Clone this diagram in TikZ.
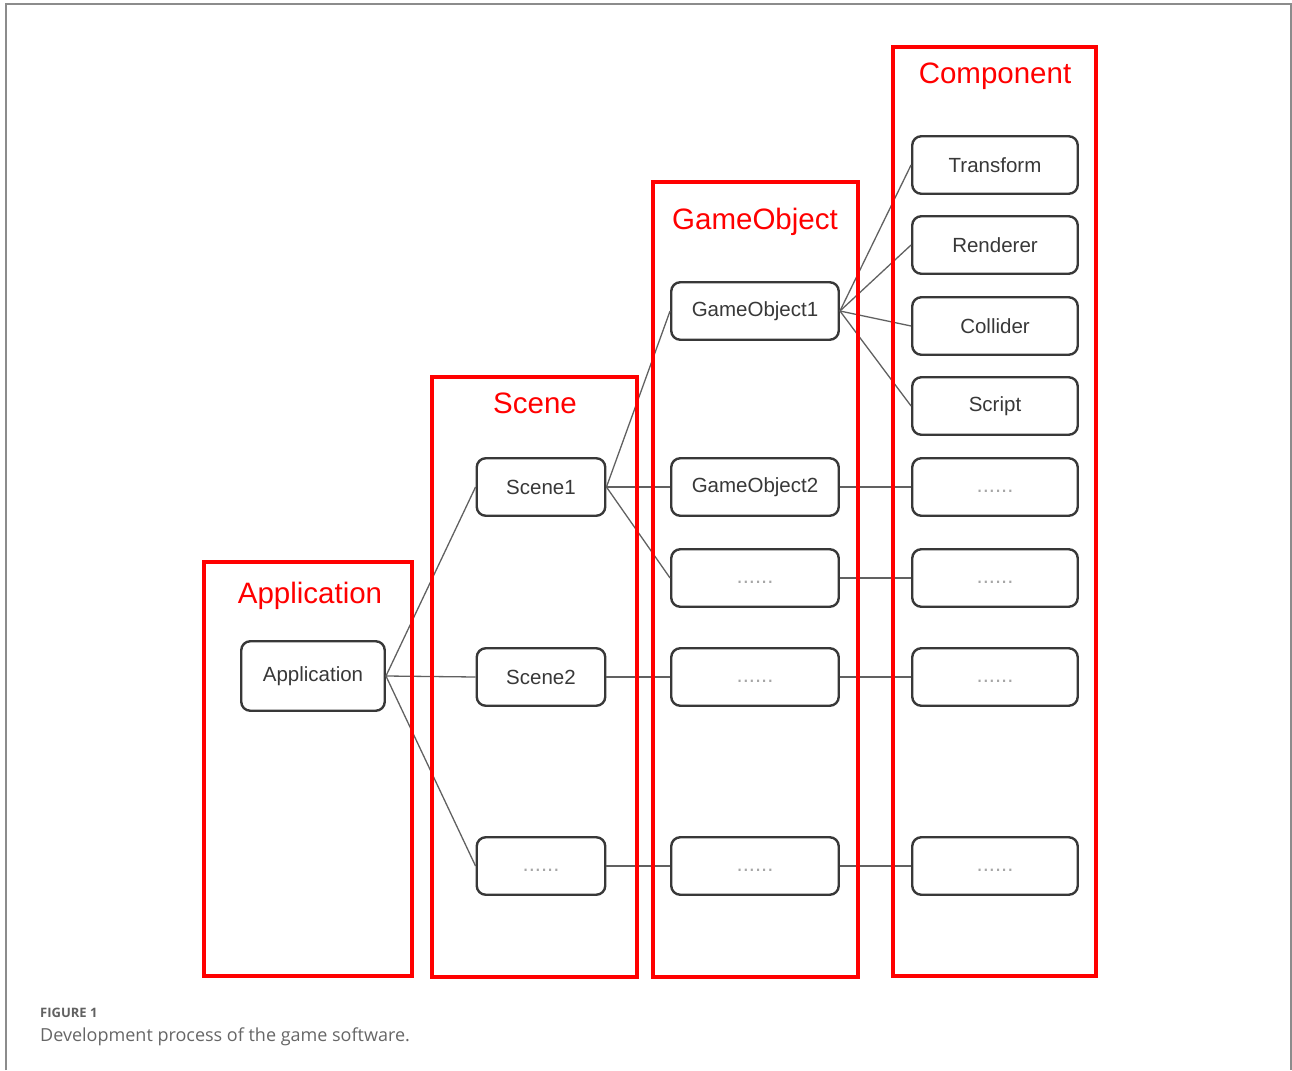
\documentclass[tikz,border=0pt]{standalone}
\usepackage{fontspec}
\setmainfont{Liberation Sans}
\newfontfamily\capfont{Open Sans}
% placeholder text for unnamed entries
\newcommand{\rowdots}{\raisebox{-10pt}{\fontsize{22}{24}\selectfont\color{black!35}......}}
\begin{document}
\begin{tikzpicture}[x=1pt,y=-1pt,
  group/.style={draw=red, line width=4pt, inner sep=0pt},
  grouptitle/.style={text=red, font=\fontsize{29.5}{34}\selectfont, anchor=base, inner sep=0pt},
  item/.style={draw=black!78, line width=2.4pt, rounded corners=9pt, minimum height=57.5pt,
    inner sep=0pt, font=\fontsize{20.5}{24}\selectfont, text=black!78},
  scenebox/.style={item, minimum width=128.5pt},
  objbox/.style={item, minimum width=167.5pt},
  compbox/.style={item, minimum width=165.5pt},
  link/.style={draw=black!62, line width=1.3pt}]
\useasboundingbox (0,0) rectangle (1292,1070);

% outer frame
\draw[black!45, line width=1.5pt] (6,1070) -- (6,4) -- (1291,4) -- (1291,1070);

% application level
\node[item, minimum width=143.5pt, minimum height=69.5pt] (app) at (313,676) {Application};

% scenes
\node[scenebox] (s1) at (541,487) {Scene1};
\node[scenebox] (s2) at (541,677) {Scene2};
\node[scenebox, minimum height=57.5pt] (s3) at (541,866) {\rowdots};

% game objects
\node[objbox] (g1) at (755,311) {GameObject1};
\node[objbox] (g2) at (755,487) {GameObject2};
\node[objbox] (g3) at (755,578) {\rowdots};
\node[objbox] (g4) at (755,677) {\rowdots};
\node[objbox] (g5) at (755,866) {\rowdots};

% components
\node[compbox] (c1) at (995,165) {Transform};
\node[compbox] (c2) at (995,245) {Renderer};
\node[compbox] (c3) at (995,326) {Collider};
\node[compbox] (c4) at (995,406) {Script};
\node[compbox] (c5) at (995,487) {\rowdots};
\node[compbox] (c6) at (995,578) {\rowdots};
\node[compbox] (c7) at (995,677) {\rowdots};
\node[compbox] (c8) at (995,866) {\rowdots};

% connectors
\draw[link] (app.east) -- (s1.west);
\draw[link] (app.east) -- (s2.west);
\draw[link] (app.east) -- (s3.west);
\draw[link] (s1.east) -- (g1.west);
\draw[link] (s1.east) -- (g2.west);
\draw[link] (s1.east) -- (g3.west);
\draw[link] (s2.east) -- (g4.west);
\draw[link] (s3.east) -- (g5.west);
\draw[link] (g1.east) -- (c1.west);
\draw[link] (g1.east) -- (c2.west);
\draw[link] (g1.east) -- (c3.west);
\draw[link] (g1.east) -- (c4.west);
\draw[link] (g2.east) -- (c5.west);
\draw[link] (g3.east) -- (c6.west);
\draw[link] (g4.east) -- (c7.west);
\draw[link] (g5.east) -- (c8.west);

% level frames
\node[group, minimum width=208pt, minimum height=414pt] (appgroup) at (308,769) {};
\node[group, minimum width=205pt, minimum height=600pt] (scenegroup) at (534.5,676.5) {};
\node[group, minimum width=205pt, minimum height=795pt] (objgroup) at (755.5,579) {};
\node[group, minimum width=203pt, minimum height=929pt] (compgroup) at (994.5,511.5) {};

\node[grouptitle] (apptitle) at (310,603) {Application};
\node[grouptitle] (scenetitle) at (535,413) {Scene};
\node[grouptitle] (objtitle) at (755,229) {GameObject};
\node[grouptitle] (comptitle) at (995,84) {Component};

% caption
\node[anchor=base west, inner sep=0pt, font=\capfont\bfseries\fontsize{13}{15}\selectfont, text=black!62] (figlabel) at (40,1017) {FIGURE 1};
\node[anchor=base west, inner sep=0pt, font=\capfont\fontsize{18}{22}\selectfont, text=black!60] (figcaption) at (40,1041) {Development process of the game software.};
\end{tikzpicture}
\end{document}
